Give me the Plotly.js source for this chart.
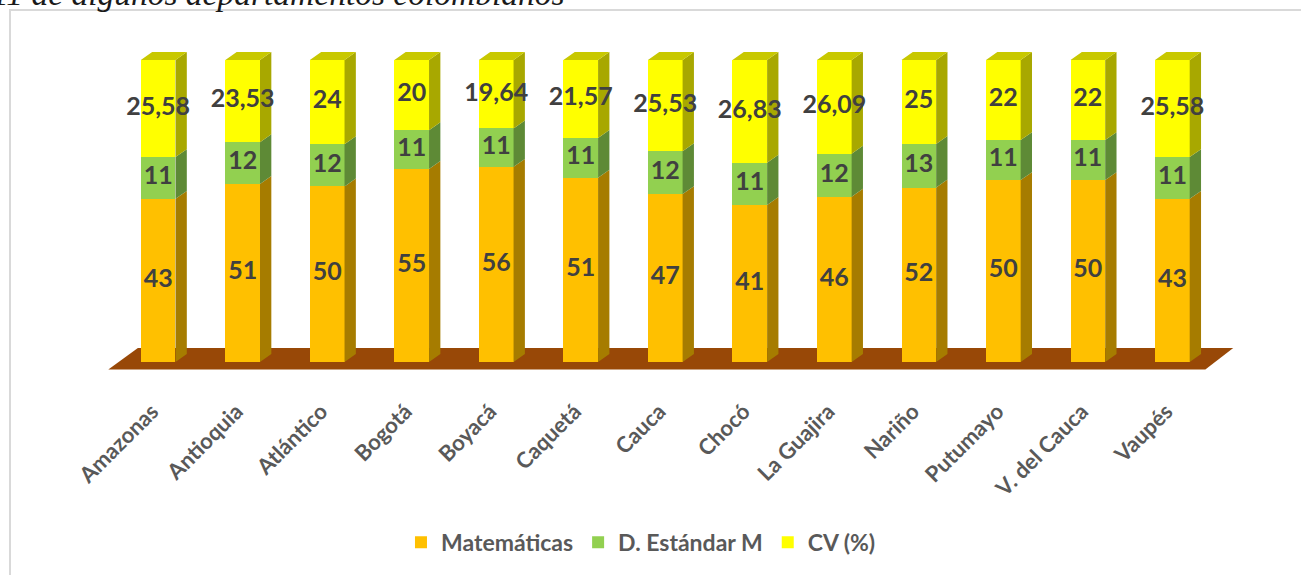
<!DOCTYPE html>
<html>
<head>
<meta charset="utf-8">
<script src="https://cdn.plot.ly/plotly-3.0.1.min.js"></script>
<style>
  html, body { margin: 0; padding: 0; width: 1301px; height: 575px; overflow: hidden; background: #fff; }
  #frame { position: absolute; left: 9px; top: 9px; width: 1400px; height: 700px;
           border-left: 2px solid #d9d9d9; border-top: 2px solid #d9d9d9; }
  #title { position: absolute; left: -8px; top: -23px; font-family: "Liberation Serif", "DejaVu Serif", serif;
           font-style: italic; font-size: 33.5px; line-height: 34px; color: #1a1a1a; white-space: nowrap; }
  #chart { position: absolute; left: 0; top: 0; width: 1301px; height: 575px; }
</style>
</head>
<body>
<div id="frame"></div>
<div id="title">11 de algunos departamentos colombianos</div>
<div id="chart"></div>
<script>
// ---- data ----
const categories = ["Amazonas", "Antioquia", "Atlántico", "Bogotá", "Boyacá", "Caquetá", "Cauca",
                    "Chocó", "La Guajira", "Nariño", "Putumayo", "V. del Cauca", "Vaupés"];
const matematicas = [43, 51, 50, 55, 56, 51, 47, 41, 46, 52, 50, 50, 43];
const desviacion  = [11, 12, 12, 11, 11, 11, 12, 11, 12, 13, 11, 11, 11];
const cv          = [25.58, 23.53, 24, 20, 19.64, 21.57, 25.53, 26.83, 26.09, 25, 22, 22, 25.58];
const seriesNames = ["Matemáticas", "D. Estándar M", "CV (%)"];

// ---- styling ----
const frontColors = ["#FFC000", "#92D050", "#FFFF00"];
const sideColors  = ["#A67C00", "#5E8A36", "#A8A800"];
const topColor    = "#C8C800";
const floorColor  = "#984807";
const W = 0.41, DX = 0.134, DY = 2.63;
const SANS = 'Lato, "Open Sans", sans-serif';

const idx = categories.map((_, i) => i);
const series = [matematicas, desviacion, cv];
const totals = idx.map(i => matematicas[i] + desviacion[i] + cv[i]);
const pct = series.map(s => s.map((v, i) => v / totals[i] * 100));
const fmt = v => String(v).replace('.', ',');

const traces = [];
// front faces (100% stacked)
series.forEach((s, k) => {
  traces.push({
    type: 'bar', name: seriesNames[k], x: idx, y: pct[k], width: W,
    marker: { color: frontColors[k], line: { width: 0 } },
    hoverinfo: 'skip'
  });
});
// side faces
const cum = idx.map(i => [0, pct[0][i], pct[0][i] + pct[1][i], 100]);
series.forEach((s, k) => {
  const xs = [], ys = [];
  idx.forEach(i => {
    const xr = i + W / 2, lo = cum[i][k], hi = cum[i][k + 1];
    xs.push(xr, xr + DX, xr + DX, xr, xr, null);
    ys.push(lo, lo + DY, hi + DY, hi, lo, null);
  });
  traces.push({ type: 'scatter', mode: 'lines', x: xs, y: ys, fill: 'toself', fillcolor: sideColors[k],
                line: { width: 0, color: sideColors[k] }, showlegend: false, hoverinfo: 'skip' });
});
// top caps
{
  const xs = [], ys = [];
  idx.forEach(i => {
    const xl = i - W / 2, xr = i + W / 2;
    xs.push(xl, xl + DX, xr + DX, xr, xl, null);
    ys.push(100, 100 + DY, 100 + DY, 100, 100, null);
  });
  traces.push({ type: 'scatter', mode: 'lines', x: xs, y: ys, fill: 'toself', fillcolor: topColor,
                line: { width: 0, color: topColor }, showlegend: false, hoverinfo: 'skip' });
}
// data labels
series.forEach((s, k) => {
  traces.push({
    type: 'scatter', mode: 'text', x: idx, y: idx.map(i => (cum[i][k] + cum[i][k + 1]) / 2),
    text: s.map(fmt), textposition: 'middle center',
    textfont: { family: SANS, size: 25, weight: 'bold', color: '#404040' },
    showlegend: false, hoverinfo: 'skip'
  });
});

const n = categories.length;
const layout = {
  width: 1301, height: 575,
  margin: { l: 99, r: 61, t: 51, b: 201 },
  paper_bgcolor: 'rgba(0,0,0,0)', plot_bgcolor: 'rgba(0,0,0,0)',
  barmode: 'stack',
  showlegend: true,
  xaxis: {
    range: [-0.7, n - 1 + 0.8], tickvals: idx, ticktext: categories, tickangle: -45,
    showgrid: false, zeroline: false, showline: false,
    ticks: 'outside', ticklen: 18, tickcolor: 'rgba(0,0,0,0)', ticklabelshift: -6,
    tickfont: { family: SANS, size: 22, weight: 'bold', color: '#595959' }
  },
  yaxis: { range: [-3, 103], visible: false, showgrid: false, zeroline: false },
  legend: {
    orientation: 'h', x: 0.475, xanchor: 'center', y: -0.535, yanchor: 'middle',
    font: { family: SANS, size: 23, weight: 'bold', color: '#595959' },
    traceorder: 'normal', itemclick: false, itemdoubleclick: false
  },
  shapes: [{
    type: 'path', xref: 'x', yref: 'y', layer: 'below',
    path: `M -0.59,-2.5 L -0.24,4.6 L ${n - 1 + 0.72},4.6 L ${n - 1 + 0.39},-2.5 Z`,
    fillcolor: floorColor, line: { width: 0 }
  }]
};

Plotly.newPlot('chart', traces, layout, { staticPlot: true, displayModeBar: false });
</script>
</body>
</html>
